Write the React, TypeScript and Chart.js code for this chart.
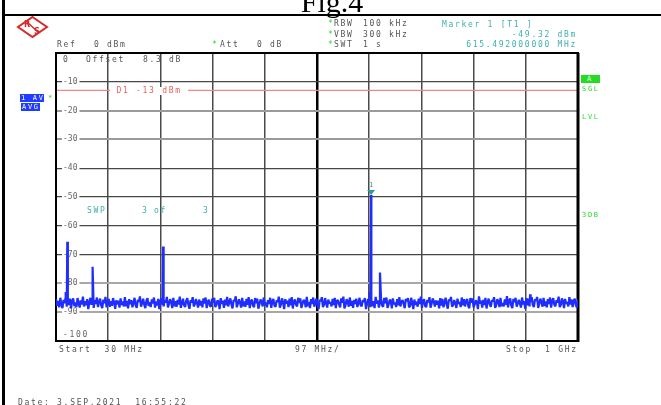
import React, { useEffect, useRef } from 'react';
import { Chart, registerables } from 'chart.js';
Chart.register(...registerables);

// ---- data ----
const START_MHZ = 30;
const STOP_MHZ = 1000;
const STEP_MHZ = 2;
const DIV_MHZ = 97;
const REF_LEVEL = 0;
const BOTTOM_LEVEL = -100;
const DB_PER_DIV = 10;
const D1_LEVEL = -13;

const noiseLevels = [
  -85.4,-87.8,-86.1,-88.3,-85.0,-87.2,-88.6,-85.7,-86.9,-84.8,-88.1,-86.4,-87.5,-85.3,-88.7,-86.0,-85.2,-87.9,-86.6,-88.2,
  -85.1,-86.8,-88.4,-85.9,-87.3,-84.6,-88.0,-86.2,-87.6,-85.5,-88.9,-86.7,-85.0,-87.4,-86.3,-88.5,-85.8,-87.1,-84.9,-88.2,
  -86.5,-85.3,-87.7,-88.6,-85.6,-86.9,-84.7,-88.3,-87.0,-85.4,-88.1,-86.2,-87.8,-85.1,-86.6,-88.8,-85.9,-87.3,-86.0,-88.4,
  -85.2,-87.5,-86.3,-88.0,-84.8,-87.9,-86.1,-88.7,-85.5,-87.2,-85.8,-88.3,-86.8,-85.0,-87.6,-88.5,-85.7,-86.4,-84.5,-88.1,
  -86.9,-85.3,-87.4,-88.6,-86.0,-85.1,-87.8,-86.5,-88.2,-85.6,-87.0,-84.9,-88.4,-86.3,-87.7,-85.4,-88.9,-86.1,-85.2,-87.5,
  -88.0,-85.8,-86.7,-84.7,-88.3,-87.1,-85.5,-86.4,-88.6,-85.0,-87.9,-86.2,-88.1,-85.7,-87.3,-84.6,-88.5,-86.8,-85.3,-87.6,
  -88.2,-86.0,-85.1,-87.4,-88.8,-85.9,-86.6,-84.8,-88.0,-87.2,-85.4,-86.9,-88.4,-85.6,-87.7,-86.1,-88.3,-85.2,-87.0,-84.9,
  -88.6,-86.4,-85.7,-87.8,-88.1,-85.3,-86.7,-85.0,-88.2,-87.5,-85.9,-86.3,-88.9,-85.1,-87.1,-86.0,-88.5,-85.6,-87.6,-84.7,
  -88.0,-86.5,-85.2,-87.3,-88.7,-85.8,-86.2,-84.5,-88.3,-87.0,-85.5,-86.8,-88.4,-85.0,-87.9,-86.3,-88.1,-85.4,-87.4,-84.8,
  -88.6,-86.1,-85.7,-87.7,-88.2,-85.1,-86.9,-85.3,-88.8,-87.2,-85.6,-86.4,-88.0,-84.9,-87.5,-86.6,-88.3,-85.8,-87.1,-85.0,
  -88.5,-86.2,-85.4,-87.8,-88.1,-85.9,-86.5,-84.6,-88.4,-87.3,-85.2,-86.7,-88.9,-85.5,-87.0,-86.0,-88.2,-85.3,-87.6,-84.8,
  -88.7,-86.3,-85.6,-87.4,-88.0,-85.0,-86.8,-85.2,-88.5,-87.1,-85.8,-86.1,-88.3,-84.7,-87.9,-86.4,-88.6,-85.5,-87.2,-84.9,
  -88.1,-86.6,-85.3,-87.7,-88.9,-85.7,-86.2,-84.8,-88.2,-87.4,-85.1,-86.9,-88.4,-85.6,-87.0,-86.5,-88.0,-85.4,-87.5,-85.0,
  -88.6,-86.0,-85.9,-87.3,-88.3,-85.2,-86.7,-84.6,-88.7,-87.6,-85.5,-86.3,-88.1,-84.9,-87.8,-86.1,-88.5,-85.7,-87.1,-85.3,
  -88.2,-86.8,-85.0,-87.5,-88.0,-85.8,-86.4,-85.1,-88.9,-87.2,-85.4,-86.6,-88.3,-85.6,-87.9,-86.2,-88.6,-84.7,-87.0,-85.9,
  -88.4,-86.5,-85.3,-87.7,-88.1,-85.0,-86.9,-84.9,-88.5,-87.4,-85.7,-86.0,-88.7,-85.2,-87.3,-86.7,-88.2,-85.5,-87.6,-84.8,
  -88.0,-86.3,-85.8,-87.1,-88.6,-85.4,-86.2,-85.1,-88.3,-87.8,-85.0,-86.8,-88.9,-85.6,-87.5,-86.4,-88.1,-85.3,-87.2,-84.6,
  -88.5,-86.1,-85.5,-87.9,-88.2,-85.7,-86.6,-84.8,-88.4,-87.0,-85.2,-86.3,-88.0,-85.9,-87.4,-86.0,-88.7,-85.1,-87.7,-85.4,
  -88.3,-86.7,-85.0,-87.3,-88.8,-85.6,-86.1,-84.7,-88.1,-87.5,-85.8,-86.9,-88.5,-85.3,-87.1,-86.5,-88.2,-84.9,-87.6,-85.5,
  -88.0,-86.2,-85.4,-87.8,-88.6,-85.1,-86.7,-85.2,-88.3,-87.3,-85.9,-86.4,-88.9,-84.5,-87.0,-86.0,-88.4,-85.7,-87.5,-85.0,
  -88.7,-86.6,-85.3,-87.2,-88.1,-85.8,-86.3,-84.8,-88.5,-87.6,-85.5,-86.1,-88.2,-85.0,-87.9,-86.8,-88.0,-85.6,-87.4,-84.4,
  -88.3,-86.0,-85.2,-87.7,-88.6,-85.4,-86.5,-85.0,-88.1,-87.1,-85.7,-86.9,-88.4,-84.9,-87.3,-86.2,-88.8,-85.1,-87.6,-85.3,
  -88.0,-86.4,-84.8,-87.5,-88.2,-85.6,-86.0,-84.7,-88.5,-87.0,-85.3,-86.6,-88.1,-85.0,-87.8,-86.3,-88.3,-85.5,-87.2,-84.9,
  -88.4,-86.1,-85.1,-87.4,-88.0,-85.8,-86.7,-84.6,-88.2,-87.5,-85.2,-86.2,-88.6,-85.4,-87.1,-86.5,-88.0,-84.8,-87.3,-85.6,
  -88.2,-86.0,-85.3,-87.6,-88.4,-85.7,
];

const spikeFreqs = [48, 51, 98, 229, 613, 615.492, 632, 911];
const spikeLevels = [-83, -65.5, -74.2, -67.2, -83, -49.32, -76.2, -83.8];

const markerFreq = 615.492;
const markerLevel = -49.32;

const xGridValues = Array.from({ length: 9 }, (_, i) => START_MHZ + (i + 1) * DIV_MHZ);
const yGridValues = Array.from({ length: 9 }, (_, i) => REF_LEVEL - (i + 1) * DB_PER_DIV);

const MONO = '"DejaVu Sans Mono", monospace';

type TProps = { x: number; y: number; c?: string; right?: boolean; bg?: string; size?: number; children: React.ReactNode };
const T = ({ x, y, c = '#555', right = false, bg, size = 8, children }: TProps) => (
  <div
    style={{
      position: 'absolute',
      left: right ? undefined : x,
      right: right ? 661 - x : undefined,
      top: y - 4,
      font: `${size}px ${MONO}`,
      letterSpacing: '1.7px',
      lineHeight: '8px',
      color: c,
      whiteSpace: 'pre',
      background: bg,
      pointerEvents: 'none',
    }}
  >
    {children}
  </div>
);

export default function App() {
  const ref = useRef<HTMLCanvasElement | null>(null);

  useEffect(() => {
    document.body.style.margin = '0';
    const trace: { x: number; y: number }[] = noiseLevels.map((v, i) => ({ x: START_MHZ + i * STEP_MHZ, y: v }));
    spikeFreqs.forEach((f, i) => trace.push({ x: f, y: spikeLevels[i] }));
    trace.sort((a, b) => a.x - b.x);

    const yGridColor = (v: number) => {
      if (v === -20 || v === -30) return '#9a9a9a';
      if (v === -80 || v === -90) return '#a8a8a8';
      return '#474747';
    };
    const yGridWidth = (v: number) => (v === -20 || v === -30 || v === -80 || v === -90 ? 2 : 1.3);

    const framePlugin = {
      id: 'frame',
      beforeDatasetsDraw(chart: any) {
        const { ctx, chartArea: a, scales } = chart;
        const yd = scales.y.getPixelForValue(D1_LEVEL);
        ctx.save();
        ctx.strokeStyle = '#f08a8a';
        ctx.lineWidth = 1.3;
        ctx.beginPath();
        ctx.moveTo(a.left, yd);
        ctx.lineTo(a.right, yd);
        ctx.stroke();
        ctx.strokeStyle = '#000';
        ctx.lineWidth = 2;
        ctx.strokeRect(a.left, a.top, a.right - a.left, a.bottom - a.top);
        ctx.lineWidth = 3;
        ctx.beginPath();
        ctx.moveTo(a.right, a.top);
        ctx.lineTo(a.right, a.bottom + 1);
        ctx.stroke();
        ctx.restore();
      },
    };

    const markerPlugin = {
      id: 'marker',
      afterDatasetsDraw(chart: any) {
        const { ctx, scales } = chart;
        const mx = scales.x.getPixelForValue(markerFreq);
        const my = scales.y.getPixelForValue(markerLevel);
        ctx.save();
        ctx.fillStyle = '#2a9a9a';
        ctx.beginPath();
        ctx.moveTo(mx - 4, my - 5);
        ctx.lineTo(mx + 4, my - 5);
        ctx.lineTo(mx, my);
        ctx.closePath();
        ctx.fill();
        ctx.font = `7px ${MONO}`;
        ctx.textAlign = 'center';
        ctx.textBaseline = 'middle';
        ctx.fillText('1', mx, my - 10);
        ctx.restore();
      },
    };

    const chart = new Chart(ref.current as HTMLCanvasElement, {
      type: 'line',
      data: {
        datasets: [
          {
            data: trace,
            borderColor: '#1f2dff',
            borderWidth: 2.2,
            borderJoinStyle: 'bevel',
            pointRadius: 0,
            tension: 0,
            fill: false,
          },
        ],
      },
      options: {
        animation: false,
        responsive: false,
        devicePixelRatio: 1,
        layout: { padding: { left: 56, top: 53, right: 83, bottom: 64 } },
        plugins: { legend: { display: false }, tooltip: { enabled: false } },
        scales: {
          x: {
            type: 'linear',
            min: START_MHZ,
            max: STOP_MHZ,
            afterBuildTicks: (s: any) => {
              s.ticks = xGridValues.map((v) => ({ value: v }));
            },
            afterFit: (s: any) => {
              s.height = 0;
            },
            ticks: { display: false },
            border: { display: false },
            grid: {
              drawTicks: false,
              color: (c: any) => (c.tick && c.tick.value === 515 ? '#000' : '#4a4a4a'),
              lineWidth: (c: any) => (c.tick && c.tick.value === 515 ? 2.5 : 1.5),
            },
          },
          y: {
            type: 'linear',
            min: BOTTOM_LEVEL,
            max: REF_LEVEL,
            afterBuildTicks: (s: any) => {
              s.ticks = yGridValues.map((v) => ({ value: v }));
            },
            afterFit: (s: any) => {
              s.width = 0;
            },
            border: { display: false },
            ticks: {
              mirror: true,
              padding: 7,
              color: '#666',
              font: { family: 'DejaVu Sans Mono', size: 8 },
              showLabelBackdrop: true,
              backdropColor: '#fff',
              backdropPadding: { top: 1, bottom: 1, left: 1, right: 2 },
              callback: (v: any) => String(v),
            },
            grid: {
              drawTicks: false,
              color: (c: any) => yGridColor(c.tick ? c.tick.value : 0),
              lineWidth: (c: any) => yGridWidth(c.tick ? c.tick.value : 0),
            },
          },
        },
      },
      plugins: [framePlugin, markerPlugin],
    } as any);
    return () => chart.destroy();
  }, []);

  const teal = '#3fb0b0';
  const green = '#2ad82a';

  return (
    <div style={{ position: 'relative', width: 661, height: 405, overflow: 'hidden', background: '#fff' }}>
      <canvas ref={ref} width={661} height={405} style={{ position: 'absolute', left: 0, top: 0, display: 'block' }} />
      {/* outer frame */}
      <div style={{ position: 'absolute', left: 2, top: 0, width: 3, height: 405, background: '#000' }} />
      <div style={{ position: 'absolute', left: 2, top: 14, width: 659, height: 2, background: '#000' }} />
      <div
        style={{
          position: 'absolute',
          left: 232,
          width: 200,
          top: -13,
          textAlign: 'center',
          font: '30px "Liberation Serif", "Times New Roman", serif',
          lineHeight: '30px',
          color: '#000',
        }}
      >
        Fig.4
      </div>
      {/* R&S logo */}
      <svg style={{ position: 'absolute', left: 0, top: 0 }} width={60} height={45}>
        <polygon points="32.5,17 47,27 32.5,37 18,27" fill="none" stroke="#d42a2a" strokeWidth={2} />
        <line x1={26} y1={21} x2={39} y2={33} stroke="#d42a2a" strokeWidth={1.5} />
        <text x={27} y={27} fontSize={8} fontWeight="bold" fill="#d42a2a" fontFamily="DejaVu Sans" textAnchor="middle">R</text>
        <text x={37} y={34} fontSize={8} fontWeight="bold" fill="#d42a2a" fontFamily="DejaVu Sans" textAnchor="middle">S</text>
      </svg>
      {/* header texts */}
      <T x={57} y={45}>Ref</T>
      <T x={94} y={45}>0 dBm</T>
      <T x={212} y={45} c={green}>*</T>
      <T x={220} y={45}>Att</T>
      <T x={257} y={45}>0 dB</T>
      <T x={328} y={24} c={green}>*</T>
      <T x={334} y={24}>RBW</T>
      <T x={363} y={24}>100 kHz</T>
      <T x={328} y={35} c={green}>*</T>
      <T x={334} y={35}>VBW</T>
      <T x={363} y={35}>300 kHz</T>
      <T x={328} y={45} c={green}>*</T>
      <T x={334} y={45}>SWT</T>
      <T x={363} y={45}>1 s</T>
      <T x={442} y={25} c={teal}>Marker 1 [T1 ]</T>
      <T x={577} y={35} c={teal} right>-49.32 dBm</T>
      <T x={577} y={45} c={teal} right>615.492000000 MHz</T>
      {/* in-plot texts */}
      <T x={63} y={60}>0</T>
      <T x={86} y={60}>Offset</T>
      <T x={143} y={60}>8.3</T>
      <T x={169} y={60}>dB</T>
      <T x={110} y={91} c="#e86060" bg="#fff"> D1 -13 dBm </T>
      <T x={87} y={211} c={teal}>SWP</T>
      <T x={142} y={211} c={teal}>3</T>
      <T x={154} y={211} c={teal}>of</T>
      <T x={203} y={211} c={teal}>3</T>
      <T x={63} y={335} c="#666">-100</T>
      {/* left status boxes */}
      <div style={{ position: 'absolute', left: 20, top: 94, width: 24, height: 8, background: '#1f3cff' }} />
      <div style={{ position: 'absolute', left: 21, top: 103, width: 19, height: 8, background: '#1f3cff' }} />
      <T x={21} y={98} c="#fff" size={7}>1 AV</T>
      <T x={22} y={107} c="#fff" size={7}>AVG</T>
      <T x={48} y={98} c={green} size={7}>*</T>
      {/* right status */}
      <div style={{ position: 'absolute', left: 581, top: 75, width: 19, height: 8, background: '#22dd22' }} />
      <T x={587} y={79} c="#e8ffe8" size={7}>A</T>
      <T x={582} y={89} c={green} size={7}>SGL</T>
      <T x={582} y={117} c={green} size={7}>LVL</T>
      <T x={582} y={215} c={green} size={7}>3DB</T>
      {/* footer */}
      <T x={59} y={350}>Start  30 MHz</T>
      <T x={295} y={350}>97 MHz/</T>
      <T x={506} y={350}>Stop  1 GHz</T>
      <T x={18} y={403}>Date: 3.SEP.2021  16:55:22</T>
    </div>
  );
}
